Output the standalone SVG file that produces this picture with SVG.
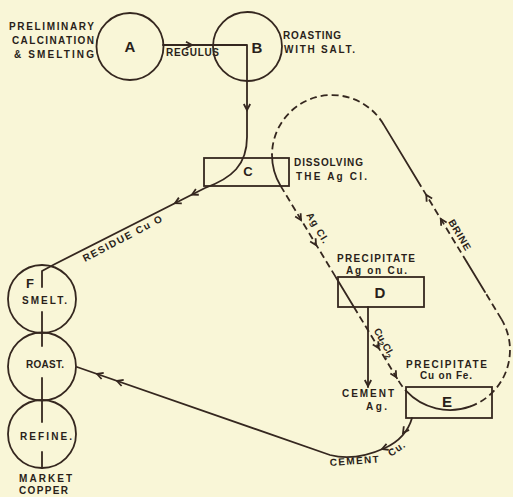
<svg xmlns="http://www.w3.org/2000/svg" width="513" height="497" viewBox="0 0 513 497">
<style>
.ln{fill:none;stroke:#35271f;stroke-width:1.8;stroke-linecap:round;stroke-linejoin:round}
.ds{stroke-dasharray:7 4;stroke-linecap:butt}
.nd{fill:none;stroke:#35271f;stroke-width:1.8}
text{font-family:"Liberation Sans",Arial,sans-serif;font-weight:bold;fill:#2a1f1a}
.s{font-size:10px}
.big{font-size:15px}
.mid{font-size:13px}
</style>
<defs>
<path id="ah" d="M-6,-3.2 L0,0 L-6,3.2" fill="none" stroke="#35271f" stroke-width="1.8" stroke-linejoin="miter"/>
</defs>
<rect width="513" height="497" fill="#f9f6d7"/>

<g id="connectors">
<path class="ln" d="M163,45 L247,45 L247,137 C247,165 232,178 205,188 L55,264 L42,271 L42,287"/>
<path class="ln" d="M42,312 L42,346 M42,378 L42,422 M42,452 L42,468"/>
<path class="ln" d="M368,307 L368,387"/>
<path class="ln" d="M412,418 C408,432 398,442 385,448 C365,457 345,459 330,455 L77,367"/>
<path class="ln ds" d="M383.4,124.1 A60,60 0 0 0 272,155"/>
<path class="ln" d="M272,155 A60,60 0 0 0 280.6,185.9"/>
<path class="ln ds" d="M280.6,185.9 L335.7,277"/>
<path class="ln" d="M335.7,277 L353.9,307"/>
<path class="ln ds" d="M353.9,307 L398.6,380.9"/>
<path class="ln ds" d="M398.6,380.9 A60,60 0 0 0 406.1,390.9"/>
<path class="ln" d="M406.1,390.9 A60,60 0 0 0 470.5,406.4"/>
<path class="ln ds" d="M470.5,406.4 A60,60 0 0 0 501.4,319.1"/>
<path class="ln ds" d="M501.4,319.1 L485,292"/>
<path class="ln" d="M485,292 L466.8,262"/>
<path class="ln ds" d="M466.8,262 L420.2,185"/>
<path class="ln" d="M420.2,185 L383.4,124.1"/>
<use href="#ah" transform="translate(192,45)"/>
<use href="#ah" transform="translate(247,110) rotate(90)"/>
<use href="#ah" transform="translate(192,194.6) rotate(153)"/>
<use href="#ah" transform="translate(175,203.2) rotate(153)"/>
<use href="#ah" transform="translate(301,220) rotate(58.8)"/>
<use href="#ah" transform="translate(316,245) rotate(58.8)"/>
<use href="#ah" transform="translate(378.6,348) rotate(58.8)"/>
<use href="#ah" transform="translate(396.2,377) rotate(58.8)"/>
<use href="#ah" transform="translate(426.3,195) rotate(238.8)"/>
<use href="#ah" transform="translate(440.8,219) rotate(238.8)"/>
<use href="#ah" transform="translate(368,386) rotate(90)"/>
<use href="#ah" transform="translate(403,433) rotate(125)"/>
<use href="#ah" transform="translate(382,449) rotate(160)"/>
<use href="#ah" transform="translate(97,374) rotate(199.2)"/>
<use href="#ah" transform="translate(117,381) rotate(199.2)"/>
<text class="s" x="166" y="56" textLength="53">REGULUS</text>
<text class="s" x="85" y="262" textLength="88" transform="rotate(-27.6 85 262)">RESIDUE Cu O</text>
<text class="s" x="306" y="215" textLength="34" transform="rotate(59 306 215)">Ag Cl.</text>
<text class="s" x="448" y="222" textLength="34" transform="rotate(59 448 222)">BRINE</text>
<text class="s" x="373.4" y="330.4" transform="rotate(61 373.4 330.4)">Cu<tspan font-size="7.5" dy="2.5">2</tspan><tspan dy="-2.5">Cl</tspan><tspan font-size="7.5" dy="2.5">2</tspan></text>
<text class="s" x="342" y="397" textLength="52">CEMENT</text>
<text class="s" x="366" y="410" textLength="21">Ag.</text>
<text class="s" x="330" y="466" textLength="49" transform="rotate(-4 330 466)">CEMENT</text>
<text class="s" x="391" y="457" textLength="18" transform="rotate(-35 391 457)">Cu.</text>
</g>

<g id="nodeA">
<circle class="nd" cx="130" cy="46.5" r="33.5"/>
<text class="big" x="130" y="52" text-anchor="middle" font-size="16">A</text>
<text class="s" x="9" y="30" textLength="85">PRELIMINARY</text>
<text class="s" x="12" y="44" textLength="82">CALCINATION</text>
<text class="s" x="14" y="58" textLength="80">&amp; SMELTING</text>
</g>

<g id="nodeB">
<circle class="nd" cx="247.5" cy="46.5" r="34.5"/>
<text class="big" x="257" y="53" text-anchor="middle">B</text>
<text class="s" x="283" y="39" textLength="58">ROASTING</text>
<text class="s" x="284" y="53" textLength="71">WITH SALT.</text>
</g>

<g id="nodeC">
<rect class="nd" x="204" y="158" width="85" height="28"/>
<text class="mid" x="248" y="176" text-anchor="middle">C</text>
<text class="s" x="294" y="166" textLength="69">DISSOLVING</text>
<text class="s" x="296" y="180" textLength="71">THE Ag Cl.</text>
</g>

<g id="nodeD">
<rect class="nd" x="338" y="277" width="86" height="30"/>
<text class="big" x="380" y="298" text-anchor="middle">D</text>
<text class="s" x="337" y="262" textLength="78">PRECIPITATE</text>
<text class="s" x="346" y="274" textLength="61">Ag on Cu.</text>
</g>

<g id="nodeE">
<rect class="nd" x="406" y="387" width="86" height="31"/>
<text class="big" x="447" y="407" text-anchor="middle">E</text>
<text class="s" x="406" y="368" textLength="81">PRECIPITATE</text>
<text class="s" x="420" y="379" textLength="52">Cu on Fe.</text>
</g>

<g id="nodeF">
<circle class="nd" cx="42" cy="299" r="34"/>
<text class="mid" x="30" y="288" text-anchor="middle">F</text>
<text class="s" x="22" y="304" textLength="45">SMELT.</text>
</g>

<g id="nodeRoast">
<circle class="nd" cx="42" cy="366.5" r="34"/>
<text class="s" x="26" y="368" textLength="38">ROAST.</text>
</g>

<g id="nodeRefine">
<circle class="nd" cx="42" cy="434" r="34"/>
<text class="s" x="20" y="440" textLength="52">REFINE.</text>
<text class="s" x="19" y="482" textLength="53">MARKET</text>
<text class="s" x="19" y="494" textLength="49">COPPER</text>
</g>
</svg>
